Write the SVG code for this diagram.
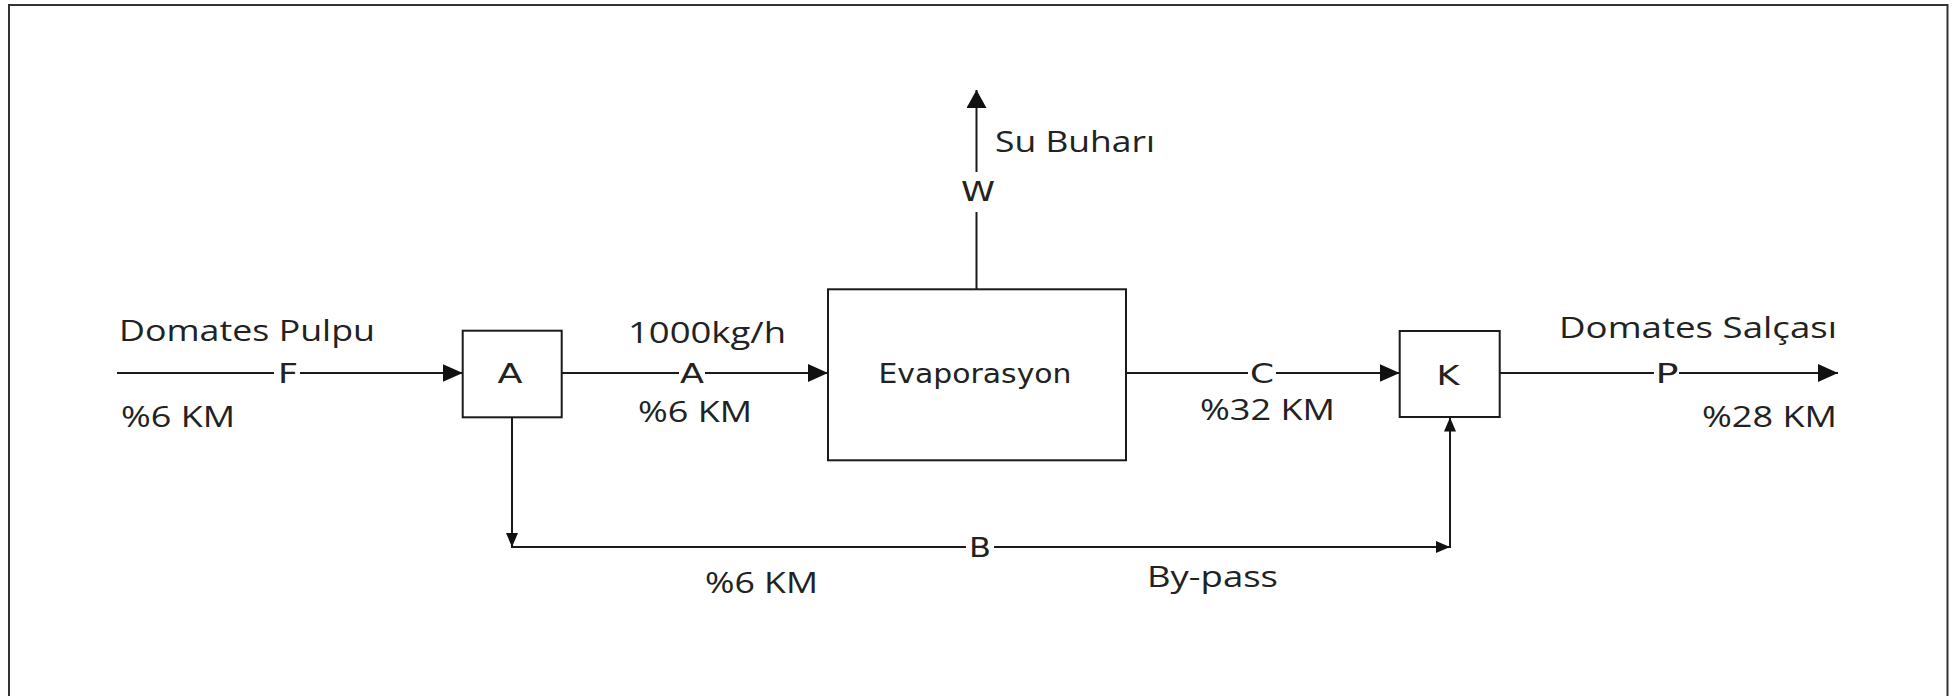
<svg xmlns="http://www.w3.org/2000/svg" width="1957" height="696" viewBox="0 0 1957 696">
<defs>
<style>
.ln{stroke:#1a1a1a;stroke-width:2;fill:none}
.box{stroke:#1a1a1a;stroke-width:2;fill:#fff}
.t{font-family:"Open Sans","Noto Sans",sans-serif;font-size:29px;fill:#222}
.l{font-family:"DejaVu Sans","Liberation Sans",sans-serif;font-size:27px;fill:#222;text-anchor:middle}
.bg{fill:#fff}
</style>
<marker id="big" markerUnits="userSpaceOnUse" markerWidth="22" markerHeight="20" refX="20" refY="9" orient="auto">
<path d="M0,0 L20,9 L0,18 Z" fill="#111"/>
</marker>
<marker id="up" markerUnits="userSpaceOnUse" markerWidth="20" markerHeight="22" refX="18" refY="10" orient="auto">
<path d="M0,0 L18,10 L0,20 Z" fill="#111"/>
</marker>
<marker id="sm" markerUnits="userSpaceOnUse" markerWidth="16" markerHeight="14" refX="14" refY="6" orient="auto">
<path d="M0,0 L14,6 L0,12 Z" fill="#111"/>
</marker>
</defs>
<rect x="0" y="0" width="1957" height="696" fill="#fff"/>
<rect x="9" y="5" width="1938.5" height="700" fill="none" stroke="#333" stroke-width="2"/>

<g id="connectors">
<line class="ln" x1="117" y1="373" x2="462.7" y2="373" marker-end="url(#big)"/>
<line class="ln" x1="561.6" y1="373" x2="828" y2="373" marker-end="url(#big)"/>
<line class="ln" x1="1126" y1="373" x2="1399.7" y2="373" marker-end="url(#big)"/>
<line class="ln" x1="1499.8" y1="373" x2="1838" y2="373" marker-end="url(#big)"/>
<line class="ln" x1="976.5" y1="289.3" x2="976.5" y2="90" marker-end="url(#up)"/>
<line class="ln" x1="512" y1="417.3" x2="512" y2="547" marker-end="url(#sm)"/>
<line class="ln" x1="511" y1="547" x2="1450" y2="547" marker-end="url(#sm)"/>
<line class="ln" x1="1450" y1="548" x2="1450" y2="417.5" marker-end="url(#sm)"/>
<rect class="bg" x="274" y="360" width="26" height="28"/>
<rect class="bg" x="679" y="360" width="26" height="28"/>
<rect class="bg" x="1248" y="360" width="28" height="28"/>
<rect class="bg" x="1654" y="360" width="25" height="28"/>
<rect class="bg" x="966" y="534" width="28" height="27"/>
<rect class="bg" x="962" y="172" width="30" height="40"/>
<text class="l" x="288" y="383" textLength="20" lengthAdjust="spacingAndGlyphs">F</text>
<text class="l" x="692" y="383" textLength="24" lengthAdjust="spacingAndGlyphs">A</text>
<text class="l" x="1262" y="383" textLength="24" lengthAdjust="spacingAndGlyphs">C</text>
<text class="l" x="1667" y="383" textLength="23" lengthAdjust="spacingAndGlyphs">P</text>
<text class="l" x="980" y="557" textLength="22" lengthAdjust="spacingAndGlyphs">B</text>
<text class="l" x="978" y="201" textLength="34" lengthAdjust="spacingAndGlyphs">W</text>
</g>

<g id="node-A">
<rect class="box" x="462.7" y="330.7" width="99" height="86.6"/>
<text class="l" x="510" y="383" textLength="25" lengthAdjust="spacingAndGlyphs">A</text>
</g>
<g id="node-evaporasyon">
<rect class="box" x="828" y="289.3" width="298" height="171"/>
<text class="l" x="975" y="383" textLength="193" lengthAdjust="spacingAndGlyphs">Evaporasyon</text>
</g>
<g id="node-K">
<rect class="box" x="1399.7" y="331" width="100" height="86"/>
<text class="l" x="1448" y="385" textLength="23" lengthAdjust="spacingAndGlyphs">K</text>
</g>

<g id="labels">
<text class="t" x="119" y="341" textLength="256" lengthAdjust="spacingAndGlyphs">Domates Pulpu</text>
<text class="t" x="121" y="427" textLength="114" lengthAdjust="spacingAndGlyphs">%6 KM</text>
<text class="t" x="628" y="343" textLength="158" lengthAdjust="spacingAndGlyphs">1000kg/h</text>
<text class="t" x="638" y="422" textLength="114" lengthAdjust="spacingAndGlyphs">%6 KM</text>
<text class="t" x="1200" y="420" textLength="135" lengthAdjust="spacingAndGlyphs">%32 KM</text>
<text class="t" x="1559" y="338" textLength="278" lengthAdjust="spacingAndGlyphs">Domates Salçası</text>
<text class="t" x="1702" y="427" textLength="135" lengthAdjust="spacingAndGlyphs">%28 KM</text>
<text class="t" x="995" y="152" textLength="160" lengthAdjust="spacingAndGlyphs">Su Buharı</text>
<text class="t" x="705" y="593" textLength="113" lengthAdjust="spacingAndGlyphs">%6 KM</text>
<text class="t" x="1147" y="587" textLength="131" lengthAdjust="spacingAndGlyphs">By-pass</text>
</g>
</svg>
